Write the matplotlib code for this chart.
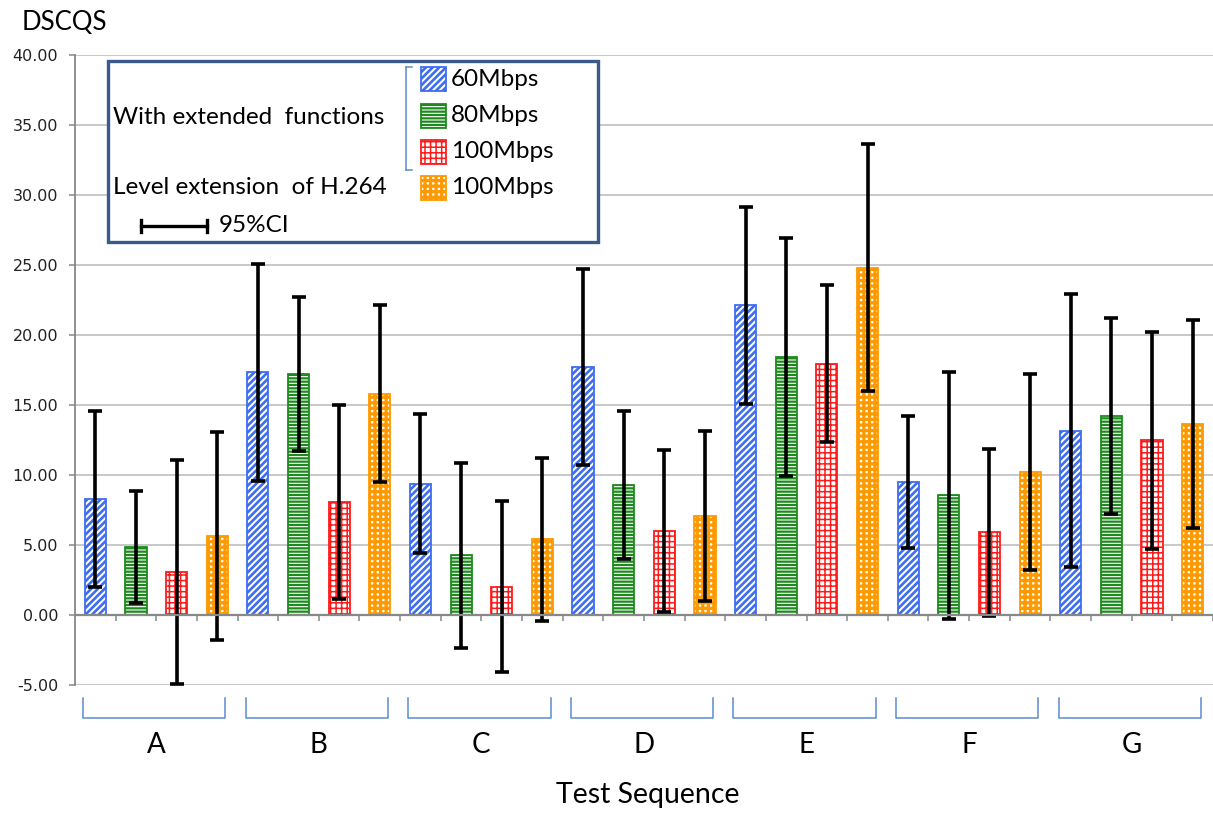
import matplotlib
matplotlib.use("Agg")
import matplotlib.pyplot as plt
import matplotlib.transforms as mtransforms
from matplotlib.patches import Rectangle
import numpy as np

# ---------------- data ----------------
groups = ["A", "B", "C", "D", "E", "F", "G"]
series_labels = ["60Mbps", "80Mbps", "100Mbps", "100Mbps"]
mean_60 = [8.28, 17.35, 9.39, 17.71, 22.11, 9.49, 13.15]
ci_60 = [6.3, 7.75, 4.96, 7.0, 7.04, 4.72, 9.75]
mean_80 = [4.83, 17.24, 4.26, 9.29, 18.40, 8.54, 14.24]
ci_80 = [4.0, 5.5, 6.6, 5.3, 8.5, 8.8, 7.0]
mean_100 = [3.10, 8.04, 2.02, 5.99, 17.95, 5.90, 12.48]
ci_100 = [8.0, 6.93, 6.12, 5.8, 5.6, 5.99, 7.75]
mean_h264 = [5.64, 15.81, 5.40, 7.06, 24.82, 10.25, 13.65]
ci_h264 = [7.4, 6.3, 5.8, 6.05, 8.83, 7.0, 7.44]
y_ticks = [-5, 0, 5, 10, 15, 20, 25, 30, 35, 40]

means = [mean_60, mean_80, mean_100, mean_h264]
cis = [ci_60, ci_80, ci_100, ci_h264]
edge_colors = ["#3F6DF0", "#1E8A1E", "#FF1A1A", "#FF9900"]
hatches = ["/////", "-----", "+++", "+++"]
hatch_lw = [1.9, 1.6, 1.1, 2.3]

W, H = 1213, 814
fig = plt.figure(figsize=(W / 100, H / 100), dpi=100)
fig.patch.set_facecolor("white")

ax_l, ax_r, ax_t, ax_b = 75, 1213, 55, 685
ax = fig.add_axes([ax_l / W, 1 - ax_b / H, (ax_r - ax_l) / W, (ax_b - ax_t) / H])

n_series = len(means)
n_groups = len(groups)
bar_w = 0.52
for s in range(n_series):
    xs = np.arange(n_groups) * n_series + s
    bars = ax.bar(xs, means[s], width=bar_w, facecolor="white",
                  edgecolor=edge_colors[s], linewidth=1.3, hatch=hatches[s], zorder=3)
    for b in bars:
        try:
            b.set_hatch_linewidth(hatch_lw[s])
        except Exception:
            pass
    ax.errorbar(xs, means[s], yerr=cis[s], fmt="none", ecolor="black",
                elinewidth=2.6, capsize=5, capthick=2.6, zorder=4)

total = n_groups * n_series
ax.set_xlim(-0.5, total - 0.5)
ax.set_ylim(-5, 40)
ax.set_yticks(y_ticks)
ax.set_yticklabels([f"{v:.2f}" for v in y_ticks])
ax.yaxis.grid(True, color="#C4C4C4", linewidth=1.3, zorder=0)
ax.set_axisbelow(True)

for sp in ["top", "right"]:
    ax.spines[sp].set_visible(False)
ax.spines["left"].set_color("#888888")
ax.spines["left"].set_linewidth(1.3)
ax.spines["bottom"].set_position(("data", 0))
ax.spines["bottom"].set_color("#888888")
ax.spines["bottom"].set_linewidth(1.6)
ax.spines["bottom"].set_zorder(5)

ax.set_xticks(np.arange(1, total + 1) - 0.5)
ax.set_xticklabels([])
ax.tick_params(axis="x", direction="out", length=4, color="#888888", width=1.1)
ax.tick_params(axis="y", direction="out", length=4, color="#888888", width=1.1,
               labelsize=11.5, labelcolor="#222222", pad=8)
for lab in ax.get_yticklabels():
    lab.set_family("DejaVu Sans")

# group brackets and labels under the axis
trans = mtransforms.blended_transform_factory(ax.transData, ax.transAxes)
y_top = -13 / (ax_b - ax_t)
y_bot = -33 / (ax_b - ax_t)
y_lab = -60 / (ax_b - ax_t)
for g, name in enumerate(groups):
    x0 = g * n_series - 0.5 + 0.2
    x1 = g * n_series + n_series - 0.5 - 0.3
    ax.plot([x0, x0, x1, x1], [y_top, y_bot, y_bot, y_top], transform=trans,
            color="#5B8BD0", linewidth=1.1, clip_on=False, solid_joinstyle="round")
    ax.text(g * n_series + (n_series - 1) / 2, y_lab, name, transform=trans,
            ha="center", va="center", fontsize=20, family="Lato", color="black")

fig.text(648 / W, 1 - 795 / H, "Test Sequence", ha="center", va="center",
         fontsize=20.5, family="Lato", color="black")
fig.text(22 / W, 1 - 22 / H, "DSCQS", ha="left", va="center",
         fontsize=18.5, family="Lato", color="black")

# ---------------- legend (pixel overlay) ----------------
lg = fig.add_axes([0, 0, 1, 1], facecolor="none")
lg.set_xlim(0, W)
lg.set_ylim(H, 0)
lg.axis("off")
lg.add_patch(Rectangle((108, 61), 490, 181, facecolor="white", edgecolor="#3A5A8C",
                       linewidth=2.4, zorder=1))
lfs = 17.5
lg.text(113, 117, "With extended  functions", ha="left", va="center",
        fontsize=lfs, family="Lato")
lg.text(113, 188, "Level extension  of H.264", ha="left", va="center",
        fontsize=lfs, family="Lato")
lg.plot([406, 406], [67, 170], color="#5B8BD0", linewidth=1.1)
lg.plot([406, 412], [67, 67], color="#5B8BD0", linewidth=1.1)
lg.plot([406, 412], [170, 170], color="#5B8BD0", linewidth=1.1)
sw_y = [67, 104, 140, 176]
lab_y = [79, 116, 152, 188]
for s in range(n_series):
    p = Rectangle((421, sw_y[s]), 25, 24, facecolor="white", edgecolor=edge_colors[s],
                  linewidth=1.3, hatch=hatches[s], zorder=2)
    try:
        p.set_hatch_linewidth(hatch_lw[s])
    except Exception:
        pass
    lg.add_patch(p)
    lg.text(451, lab_y[s], series_labels[s], ha="left", va="center",
            fontsize=lfs, family="Lato")
lg.plot([141, 207], [226, 226], color="black", linewidth=2.4)
lg.plot([141, 141], [220, 232], color="black", linewidth=2.4)
lg.plot([207, 207], [220, 232], color="black", linewidth=2.4)
lg.text(219, 226, "95%CI", ha="left", va="center", fontsize=lfs, family="Lato")

fig.savefig("out.png", dpi=100)
